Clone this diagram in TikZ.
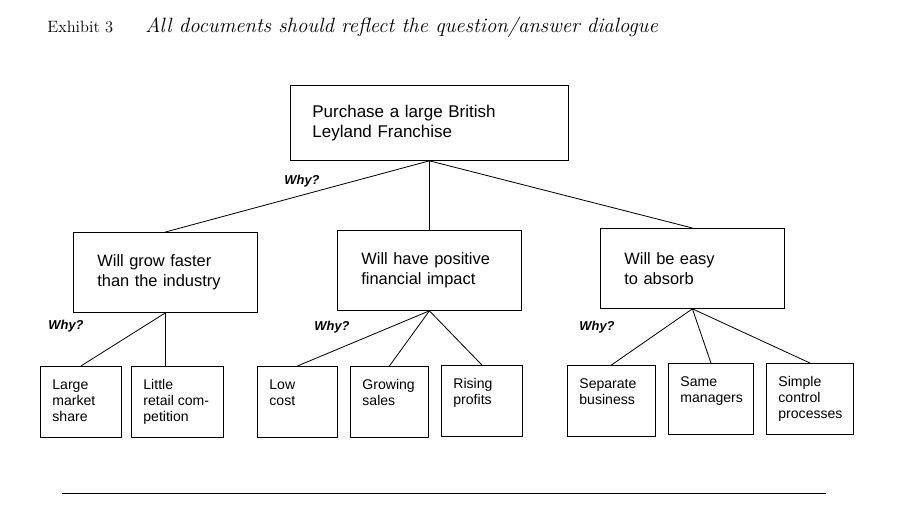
\documentclass[tikz,border=0pt]{standalone}
\usepackage{fontspec}
\newfontfamily\boxfont{Liberation Sans}
\tikzset{
  goal/.style={shape=rectangle, draw=black, anchor=north west, align=left, inner xsep=0.66cm, text width=7.02cm, minimum height=2.25cm, font=\boxfont\fontsize{14.5}{17.5}\selectfont},
  reason/.style={shape=rectangle, draw=black, anchor=north west, align=left, inner xsep=0.72cm, text width=4.08cm, minimum height=2.4cm, font=\boxfont\fontsize{14}{17}\selectfont},
  leaf/.style={shape=rectangle, draw=black, anchor=north west, inner xsep=0.36cm, inner ysep=0.4cm, font=\boxfont\fontsize{12}{13.5}\selectfont},
  why/.style={shape=rectangle, draw=none, font=\boxfont\bfseries\itshape\fontsize{11}{13}\selectfont}
}
\newcommand{\leafbox}[2]{\parbox[c][1.33cm][t]{#1}{\raggedright #2}}
\begin{document}
\begin{tikzpicture}[x=0.03cm, y=-0.03cm, line width=0.7pt]
\useasboundingbox (0,0) rectangle (907,510);
%%%%%%%%%%%%%%%%%%%%%%%%%%%%%%%%%%%%%%%%%%% HELP LINES
%\draw[help lines] (0,0) grid +(907,510);

%%%%%%%%%%%%%%%%%%%%%%%%%%%%%%%%%%%%%%%%%%% heading
\node[shape=rectangle, draw=none, anchor=base west, inner sep=0pt, font=\fontsize{14}{16}\selectfont](exhibit) at (47,33) {Exhibit 3};
\node[shape=rectangle, draw=none, anchor=base west, inner sep=0pt, font=\itshape\fontsize{17.7}{20}\selectfont](title) at (145,33) {All documents should reflect the question/answer dialogue};

%%%%%%%%%%%%%%%%%%%%%%%%%%%%%%%%%%%%%%%%%%% boxes
\node[goal](purchase) at (290,85) {Purchase a large British\\Leyland Franchise};

\node[reason](grow) at (73,232) {Will grow faster\\than the industry};
\node[reason](impact) at (337,230) {Will have positive\\financial impact};
\node[reason](absorb) at (600,228) {Will be easy\\to absorb};

\node[leaf](share) at (40,366) {\leafbox{1.71cm}{Large\\market\\share}};
\node[leaf](retail) at (131,366) {\leafbox{2.04cm}{Little\\retail com-\\petition}};
\node[leaf](lowcost) at (257,366) {\leafbox{1.68cm}{Low\\cost}};
\node[leaf](sales) at (350,366) {\leafbox{1.62cm}{Growing\\sales}};
\node[leaf](profits) at (441,365) {\leafbox{1.71cm}{Rising\\profits}};
\node[leaf](separate) at (567,365) {\leafbox{1.92cm}{Separate\\business}};
\node[leaf](managers) at (668,363) {\leafbox{1.83cm}{Same\\managers}};
\node[leaf](control) at (766,363) {\leafbox{1.89cm}{Simple\\control\\processes}};

%%%%% why labels
\node[why](why1) at (302,181) {Why?};
\node[why](why2) at (66,326) {Why?};
\node[why](why3) at (332,327) {Why?};
\node[why](why4) at (597,327) {Why?};

%%%%%%%%%%%%%%%%%%%%%%%%%%%%%%%%%%%%%%%%%%% lines
\draw (purchase.south) -- (grow.north);
\draw (purchase.south) -- (impact.north);
\draw (purchase.south) -- (absorb.north);

\draw (grow.south) -- (share.north);
\draw (grow.south) -- (grow.south |- retail.north);

\draw (impact.south) -- (lowcost.north);
\draw (impact.south) -- (sales.north);
\draw (impact.south) -- (profits.north);

\draw (absorb.south) -- (separate.north);
\draw (absorb.south) -- (managers.north);
\draw (absorb.south) -- (control.north);

%%%%% rule
\draw (62,493) -- (826,493);
\end{tikzpicture}
\end{document}
